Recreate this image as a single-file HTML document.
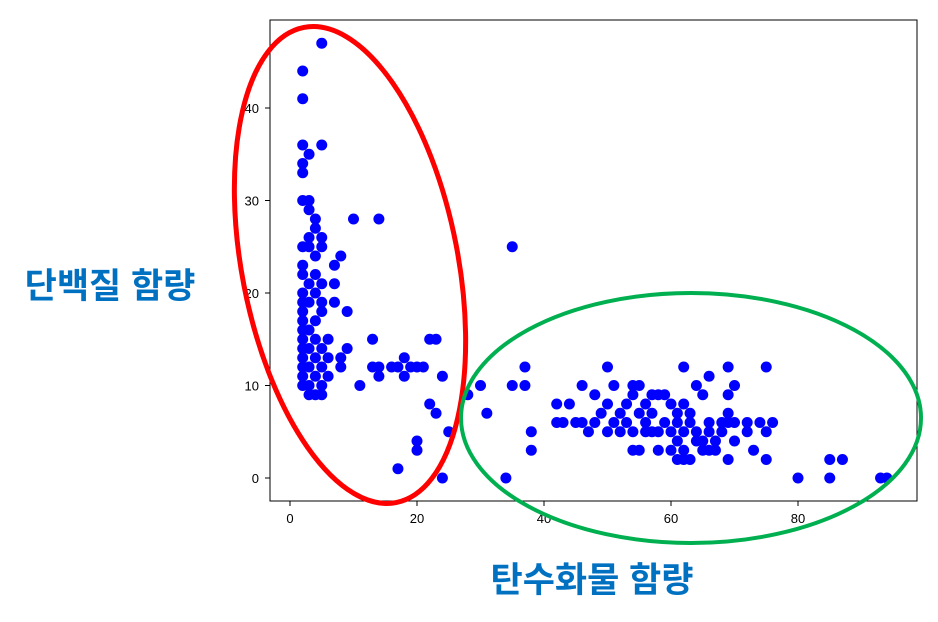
<!DOCTYPE html>
<html><head><meta charset="utf-8"><style>
body{margin:0;background:#fff;}
svg{display:block;font-family:"Liberation Sans","DejaVu Sans",sans-serif;}
.lab{font-family:"Liberation Sans","Noto Sans CJK KR",sans-serif;font-weight:bold;fill:#0070c0;font-size:35px;}
</style></head><body>
<svg id="chart" width="938" height="622">
<rect x="270" y="20" width="647" height="481" fill="none" stroke="#000" stroke-width="1"/>
<g id="ticks"></g>
<g id="pts"></g>
<ellipse cx="350" cy="265" rx="108" ry="242" transform="rotate(-11 350 265)" fill="none" stroke="#ff0000" stroke-width="5"/>
<ellipse cx="691" cy="418" rx="230" ry="125" fill="none" stroke="#00b050" stroke-width="4"/>
<text class="lab" x="110" y="298" text-anchor="middle">단백질 함량</text>
<text class="lab" x="592" y="592" text-anchor="middle">탄수화물 함량</text>
</svg>
<script>
const xTicks=[0,20,40,60,80];
const yTicks=[0,10,20,30,40];
const xs=[5,2,2,2,5,3,2,2,2,3,3,4,10,14,4,3,5,2,3,5,4,8,2,7,4,2,3,5,7,2,4,2,3,5,7,2,5,9,2,4,2,3,2,4,6,13,22,23,2,3,5,9,2,4,6,8,18,2,3,5,8,13,14,16,17,19,20,21,2,4,6,14,18,24,2,3,5,11,3,4,5,22,23,25,20,20,17,24,
28,30,31,35,35,37,37,38,38,34,42,42,43,44,45,46,46,47,48,48,49,50,50,50,51,51,52,52,53,53,54,54,54,54,55,55,55,56,56,56,57,57,57,58,58,58,59,59,60,60,60,61,61,61,61,62,62,62,62,62,63,63,63,64,64,64,65,65,65,66,66,66,66,67,67,68,68,69,69,69,69,69,70,70,70,72,72,73,74,75,75,75,76,80,85,85,87,93,94];
const ys=[47,44,41,36,36,35,34,33,30,30,29,28,28,28,27,26,26,25,25,25,24,24,23,23,22,22,21,21,21,20,20,19,19,19,19,18,18,18,17,17,16,16,15,15,15,15,15,15,14,14,14,14,13,13,13,13,13,12,12,12,12,12,12,12,12,12,12,12,11,11,11,11,11,11,10,10,10,10,9,9,9,8,7,5,4,3,1,0,
9,10,7,25,10,12,10,5,3,0,8,6,6,8,6,10,6,5,6,9,7,12,8,5,10,6,7,5,8,6,10,9,5,3,7,10,3,8,6,5,5,7,9,3,9,5,6,9,8,5,3,7,6,4,2,12,8,5,3,2,2,7,6,10,4,5,9,4,3,11,6,5,3,4,3,6,5,12,9,7,6,2,10,6,4,6,5,3,6,12,5,2,6,0,2,0,2,0,0];
const X=v=>290+v*6.35, Y=v=>478-v*9.25;
const NS='http://www.w3.org/2000/svg';
const tg=document.getElementById('ticks'), pg=document.getElementById('pts');
xTicks.forEach(t=>{
 const l=document.createElementNS(NS,'line');
 l.setAttribute('x1',X(t));l.setAttribute('x2',X(t));l.setAttribute('y1',501);l.setAttribute('y2',506);l.setAttribute('stroke','#000');
 
 
 tg.appendChild(l);
 const s=document.createElementNS(NS,'text');
 s.setAttribute('x',X(t));s.setAttribute('y',523);s.setAttribute('text-anchor','middle');s.setAttribute('font-size','13');s.textContent=t;
 
 
 tg.appendChild(s);
});
yTicks.forEach(t=>{
 const l=document.createElementNS(NS,'line');
 l.setAttribute('x1',265);l.setAttribute('x2',270);l.setAttribute('y1',Y(t));l.setAttribute('y2',Y(t));l.setAttribute('stroke','#000');
 
 
 tg.appendChild(l);
 const s=document.createElementNS(NS,'text');
 s.setAttribute('x',259);s.setAttribute('y',Y(t)+5);s.setAttribute('text-anchor','end');s.setAttribute('font-size','13');s.textContent=t;
 
 
 tg.appendChild(s);
});
xs.forEach((v,i)=>{
 const c=document.createElementNS(NS,'circle');
 c.setAttribute('cx',X(v));c.setAttribute('cy',Y(ys[i]));c.setAttribute('r',5.5);c.setAttribute('fill','#0000ff');
 
 
 pg.appendChild(c);
});
</script>
</body></html>
